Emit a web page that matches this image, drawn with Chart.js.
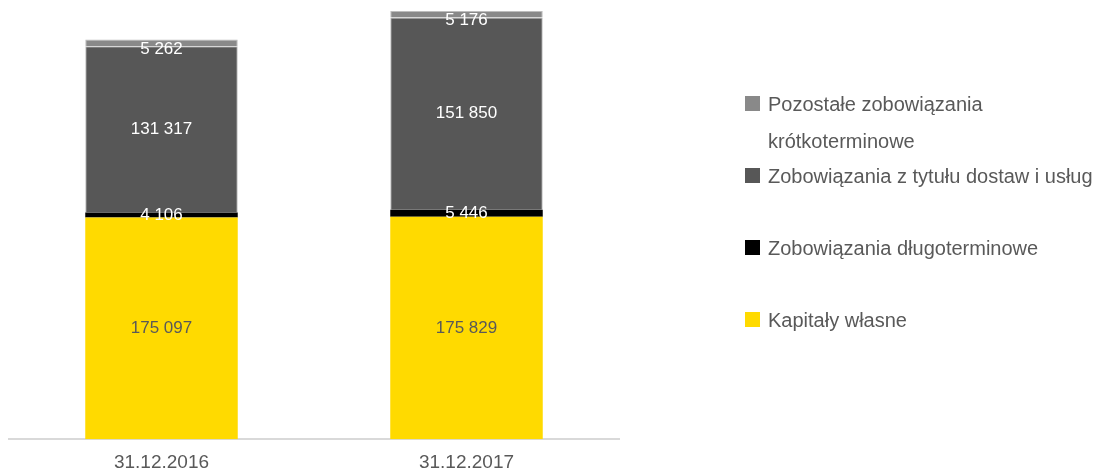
<!DOCTYPE html>
<html>
<head>
<meta charset="utf-8">
<script src="https://cdn.jsdelivr.net/npm/chart.js@4"></script>
<style>
  body { margin: 0; background: #fff; }
  canvas { display: block; }
</style>
</head>
<body>
<canvas id="chart" width="1105" height="471"></canvas>
<script>
// --- Data ---
const categories = ['31.12.2016', '31.12.2017'];
const kapitalyWlasne = [175097, 175829];
const zobDlugoterminowe = [4106, 5446];
const zobDostawUslug = [131317, 151850];
const pozostaleKrotko = [5262, 5176];

const labelKapitaly = 'Kapitały własne';
const labelDlugo = 'Zobowiązania długoterminowe';
const labelDostaw = 'Zobowiązania z tytułu dostaw i usług';
const labelPozostale = ['Pozostałe zobowiązania', 'krótkoterminowe'];

const FONT = '"Liberation Sans", Arial, sans-serif';
const TEXT_GREY = '#595959';

// thousands with a plain space: 175 097, 5 262
function fmt(v) {
  return String(v).replace(/\B(?=(\d{3})+(?!\d))/g, ' ');
}

// --- value labels inside the segments ---
const segmentLabels = {
  id: 'segmentLabels',
  afterDatasetsDraw(chart) {
    const ctx = chart.ctx;
    const last = chart.data.datasets.length - 1;
    ctx.save();
    ctx.font = '17px ' + FONT;
    ctx.textAlign = 'center';
    ctx.textBaseline = 'middle';
    chart.data.datasets.forEach((ds, i) => {
      const meta = chart.getDatasetMeta(i);
      meta.data.forEach((bar, j) => {
        const mid = (bar.y + bar.base) / 2;
        const shift = i === last ? 6 : 0;   // top label sits a bit lower
        ctx.fillStyle = ds.labelColor;
        ctx.fillText(fmt(ds.data[j]), bar.x, mid + shift);
      });
    });
    ctx.restore();
  }
};

// --- legend on the right, top item first ---
const sideLegend = {
  id: 'sideLegend',
  afterDraw(chart) {
    const ctx = chart.ctx;
    const items = chart.data.datasets.slice().reverse();
    const boxX = 745, textX = 768, firstBase = 111, step = 72, lineGap = 37;
    ctx.save();
    ctx.font = '20px ' + FONT;
    ctx.textBaseline = 'alphabetic';
    ctx.textAlign = 'left';
    items.forEach((ds, i) => {
      const base = firstBase + i * step;
      ctx.fillStyle = ds.backgroundColor;
      ctx.fillRect(boxX, base - 15, 15, 15);
      const lines = Array.isArray(ds.label) ? ds.label : [ds.label];
      ctx.fillStyle = TEXT_GREY;
      lines.forEach((t, k) => ctx.fillText(t, textX, base + k * lineGap));
    });
    ctx.restore();
  }
};

new Chart(document.getElementById('chart'), {
  type: 'bar',
  data: {
    labels: categories,
    datasets: [
      { label: labelKapitaly, data: kapitalyWlasne, backgroundColor: '#FFDA00', labelColor: TEXT_GREY, borderWidth: 0 },
      { label: labelDlugo, data: zobDlugoterminowe, backgroundColor: '#000000', labelColor: '#ffffff', borderWidth: 0 },
      { label: labelDostaw, data: zobDostawUslug, backgroundColor: '#575757', labelColor: '#ffffff', borderWidth: 1, borderColor: '#bdbdbd' },
      { label: labelPozostale, data: pozostaleKrotko, backgroundColor: '#898989', labelColor: '#ffffff', borderWidth: 1, borderColor: '#bdbdbd' }
    ]
  },
  options: {
    responsive: false,
    animation: false,
    layout: { padding: { left: 9, right: 486, top: 0, bottom: -15 } },
    datasets: {
      bar: { categoryPercentage: 1, barPercentage: 0.5 }
    },
    scales: {
      x: {
        stacked: true,
        grid: { display: true, color: 'transparent', drawTicks: false, drawOnChartArea: false },
        border: { display: true, color: '#d9d9d9', width: 2 },
        ticks: { color: TEXT_GREY, font: { family: FONT, size: 19 }, padding: 12 }
      },
      y: {
        stacked: true,
        display: false,
        min: 0,
        max: 347000
      }
    },
    plugins: {
      legend: { display: false },
      tooltip: { enabled: false }
    }
  },
  plugins: [segmentLabels, sideLegend]
});
</script>
</body>
</html>
